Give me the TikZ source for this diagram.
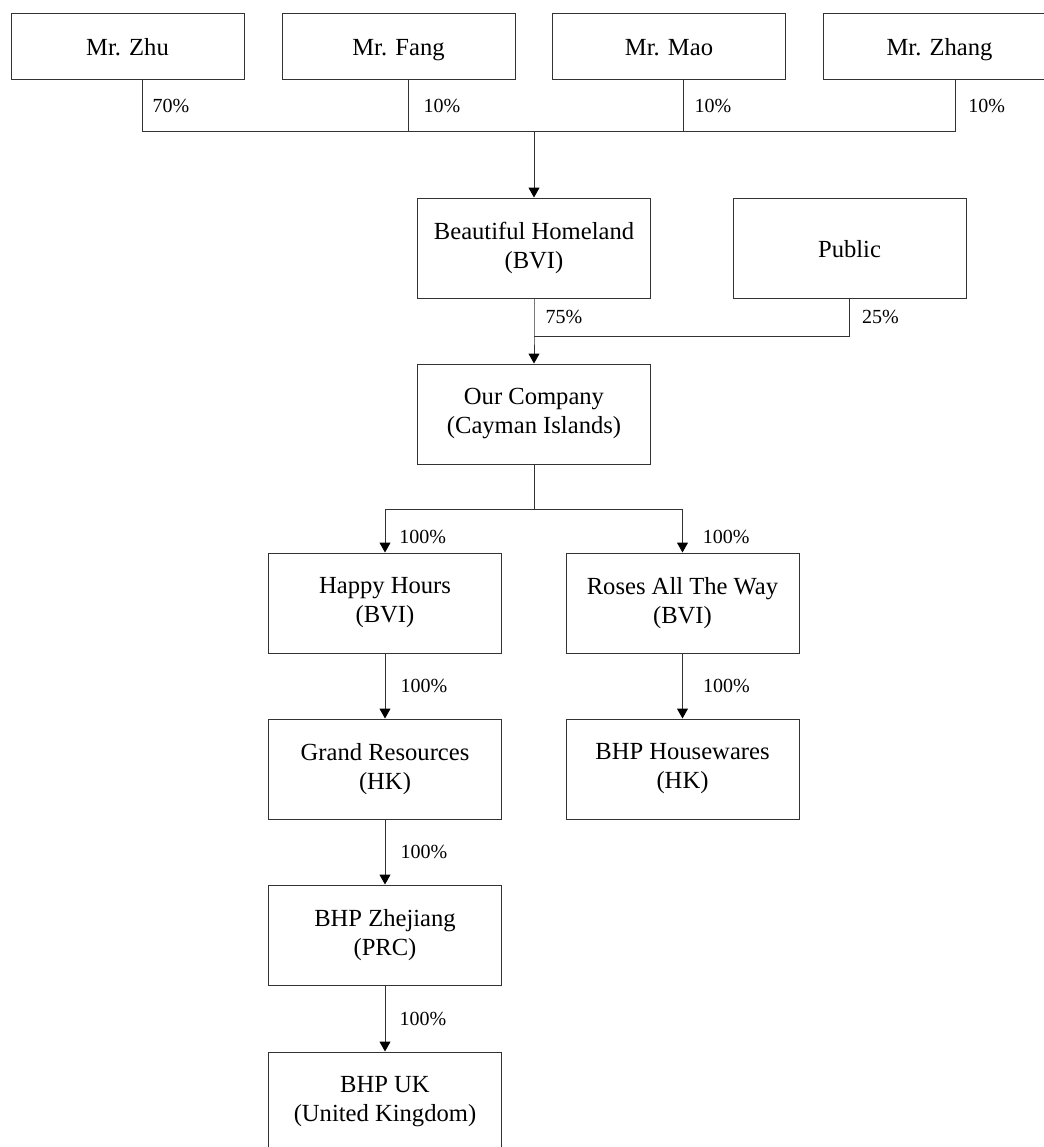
\documentclass[tikz,border=0pt]{standalone}
\usepackage{fontspec}
\setmainfont{Liberation Serif}
\usetikzlibrary{arrows.meta}

\tikzset{
    entity/.style={draw=black!80, line width=0.5pt, minimum width=116.5pt, minimum height=50pt,
        inner sep=0pt, align=center, font=\fontsize{12.3}{14.5}\selectfont},
    oneline/.style={text height=11pt, text depth=2pt},
    holder/.style={entity, oneline, minimum height=33pt},
    pct/.style={anchor=west, inner sep=0pt, font=\fontsize{10}{12}\selectfont},
    own/.style={draw=black!80, line width=0.5pt},
    ownarrow/.style={own, -{Triangle[width=5.5pt, length=5pt, color=black]}},
}

\begin{document}
\begin{tikzpicture}[x=0.5pt, y=-0.5pt]
    \useasboundingbox (0, 0) rectangle (1044, 1147);
    % shareholders
    \node [holder] (zhu)   at (127.5, 46) {Mr. Zhu};
    \node [holder] (fang)  at (398.5, 46) {Mr. Fang};
    \node [holder] (mao)   at (669, 46)   {Mr. Mao};
    \node [holder] (zhang) at (939.5, 46) {Mr. Zhang};
    % holding companies
    \node [entity] (homeland) at (534, 248)   {Beautiful Homeland\\(BVI)};
    \node [entity, oneline] (public) at (849.5, 248) {Public};
    \node [entity] (ourco)    at (534, 414)   {Our Company\\(Cayman Islands)};
    % subsidiaries
    \node [entity] (happy)  at (385, 603)   {Happy Hours\\(BVI)};
    \node [entity] (roses)  at (682.5, 603) {Roses All The Way\\(BVI)};
    \node [entity] (grand)  at (385, 769)   {Grand Resources\\(HK)};
    \node [entity] (wares)  at (682.5, 769) {BHP Housewares\\(HK)};
    \node [entity] (zhejiang) at (385, 935) {BHP Zhejiang\\(PRC)};
    \node [entity] (uk)     at (385, 1102)  {BHP UK\\(United Kingdom)};

    \coordinate (topjoin) at (534, 131);
    \coordinate (pubjoin) at (534, 336);
    \coordinate (split)   at (534, 509);

    % shareholders -> Beautiful Homeland
    \draw [own] ([xshift=7.25pt]zhu.south) -- node [pct, xshift=5pt] (p-zhu) {70\%} ++(0, 52)
        -| ([xshift=7.75pt]zhang.south);
    \draw [own] ([xshift=4.75pt]fang.south) -- node [pct, xshift=7.5pt] (p-fang) {10\%} ++(0, 52);
    \draw [own] ([xshift=7pt]mao.south) -- node [pct, xshift=5.5pt] (p-mao) {10\%} ++(0, 52);
    \path ([xshift=7.75pt]zhang.south) -- node [pct, xshift=6.5pt] (p-zhang) {10\%} ++(0, 52);
    \draw [ownarrow] (topjoin) -- (homeland.north);

    % Beautiful Homeland and Public -> Our Company
    \draw [own] (public.south) -- node [pct, xshift=6pt] (p-public) {25\%} (public.south |- pubjoin) -- (pubjoin);
    \draw [ownarrow] (homeland.south) -- node [pct, xshift=5.5pt] (p-homeland) {75\%} (pubjoin) -- (ourco.north);

    % Our Company -> subsidiaries
    \draw [own] (ourco.south) -- (split);
    \draw [ownarrow] (split) -| (happy.north);
    \draw [ownarrow] (split) -| (roses.north);
    \node [pct] (p-happy) at ([xshift=7pt, yshift=8pt]happy.north) {100\%};
    \node [pct] (p-roses) at ([xshift=10pt, yshift=8pt]roses.north) {100\%};
    \draw [ownarrow] (happy) -- node [pct, xshift=7.5pt] (p-grand) {100\%} (grand);
    \draw [ownarrow] (roses) -- node [pct, xshift=10pt] (p-wares) {100\%} (wares);
    \draw [ownarrow] (grand) -- node [pct, xshift=7.5pt] (p-zhejiang) {100\%} (zhejiang);
    \draw [ownarrow] (zhejiang) -- node [pct, xshift=7pt] (p-uk) {100\%} (uk);
\end{tikzpicture}
\end{document}
